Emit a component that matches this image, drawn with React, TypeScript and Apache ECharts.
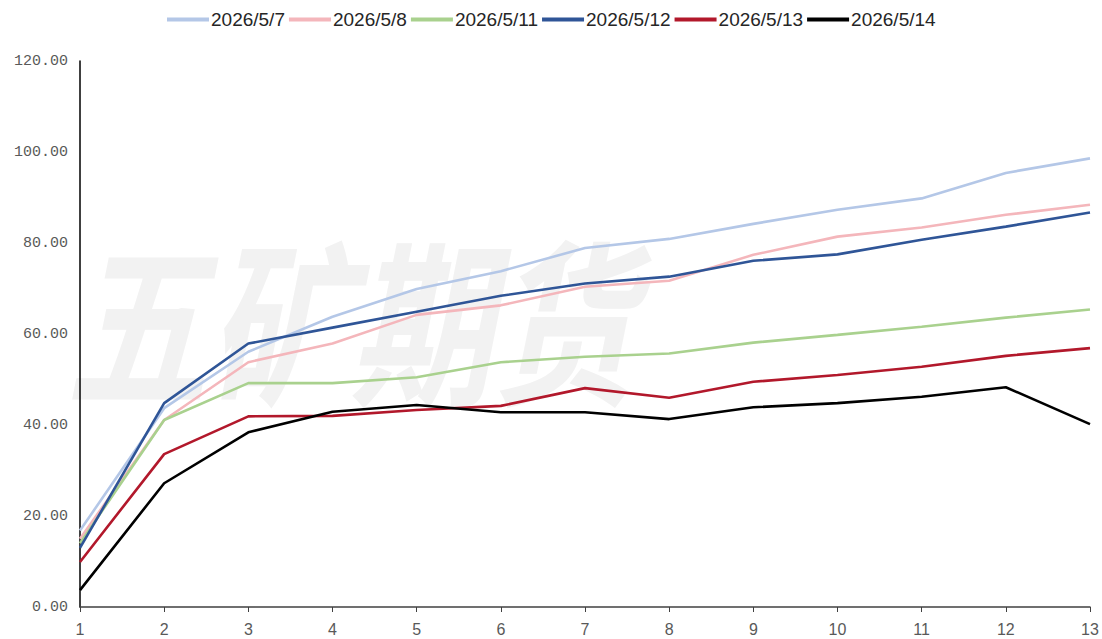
import React, { useEffect, useRef } from "react";
import * as echarts from "echarts";

const categories = ["1", "2", "3", "4", "5", "6", "7", "8", "9", "10", "11", "12", "13"];
const seriesNames = ["2026/5/7", "2026/5/8", "2026/5/11", "2026/5/12", "2026/5/13", "2026/5/14"];
const s0507 = [16.8, 43.7, 56.1, 63.8, 69.9, 73.8, 78.9, 80.9, 84.2, 87.3, 89.8, 95.4, 98.6];
const s0508 = [15.0, 41.1, 53.8, 57.9, 64.2, 66.3, 70.4, 71.7, 77.4, 81.4, 83.4, 86.2, 88.4];
const s0511 = [14.0, 41.1, 49.2, 49.2, 50.5, 53.8, 55.0, 55.7, 58.1, 59.8, 61.6, 63.6, 65.4];
const s0512 = [13.0, 44.8, 57.9, 61.4, 64.9, 68.4, 71.1, 72.6, 76.1, 77.5, 80.7, 83.6, 86.7];
const s0513 = [9.9, 33.6, 41.9, 42.0, 43.3, 44.2, 48.1, 46.0, 49.5, 51.0, 52.8, 55.2, 56.9];
const s0514 = [3.7, 27.2, 38.4, 42.9, 44.4, 42.8, 42.8, 41.3, 43.9, 44.8, 46.2, 48.3, 40.2];
const colors = ["#b4c7e7", "#f4b6bb", "#a9d18e", "#2f5597", "#b2182b", "#000000"];
const allData = [s0507, s0508, s0511, s0512, s0513, s0514];

export default function App() {
  const ref = useRef<HTMLDivElement>(null);
  useEffect(() => {
    if (!ref.current) return;
    const chart = echarts.init(ref.current, undefined, { renderer: "svg" });
    chart.setOption({
      animation: false,
      backgroundColor: "#ffffff",
      graphic: [
        {
          type: "text",
          x: 66,
          y: 226,
          scaleY: 1.25,
          z: -10,
          silent: true,
          style: {
            text: "五矿期货",
            font: "italic bold 142px 'Noto Sans CJK SC'",
            fill: "#f2f2f2",
          },
        },
      ],
      legend: {
        top: 5,
        left: 162,
        itemWidth: 42,
        itemHeight: 10,
        itemGap: 4,
        icon: "path://M0,3 L42,3 L42,7 L0,7 Z",
        textStyle: {
          fontSize: 19,
          color: "#262626",
          fontFamily: "'Liberation Sans Narrow', 'Liberation Sans', Arial",
          padding: [0, 0, 0, -3],
        },
        data: seriesNames,
      },
      grid: { left: 80, right: 12, top: 61, bottom: 32, containLabel: false },
      xAxis: {
        type: "category",
        boundaryGap: false,
        data: categories,
        axisLine: { lineStyle: { color: "#404040", width: 1.5 } },
        axisTick: { show: true, alignWithLabel: true, length: 5, lineStyle: { color: "#404040" } },
        axisLabel: { color: "#595959", fontSize: 16, margin: 14, fontFamily: "'Liberation Sans', Arial" },
        splitLine: { show: false },
      },
      yAxis: {
        type: "value",
        min: 0,
        max: 120,
        interval: 20,
        axisLine: { show: true, lineStyle: { color: "#000", width: 1.5 } },
        axisTick: { show: false },
        splitLine: { show: false },
        axisLabel: {
          color: "#595959",
          fontSize: 15,
          margin: 12,
          fontFamily: "'Liberation Mono', 'DejaVu Sans Mono', monospace",
          formatter: (v: number) => v.toFixed(2),
        },
      },
      series: seriesNames.map((name, i) => ({
        name,
        type: "line",
        data: allData[i],
        showSymbol: false,
        symbol: "none",
        lineStyle: { color: colors[i], width: 2.6 },
        itemStyle: { color: colors[i] },
        z: 2 + i,
      })),
    });
    return () => chart.dispose();
  }, []);
  return <div ref={ref} style={{ width: 1102, height: 639, position: "absolute", left: 0, top: 0 }} />;
}
